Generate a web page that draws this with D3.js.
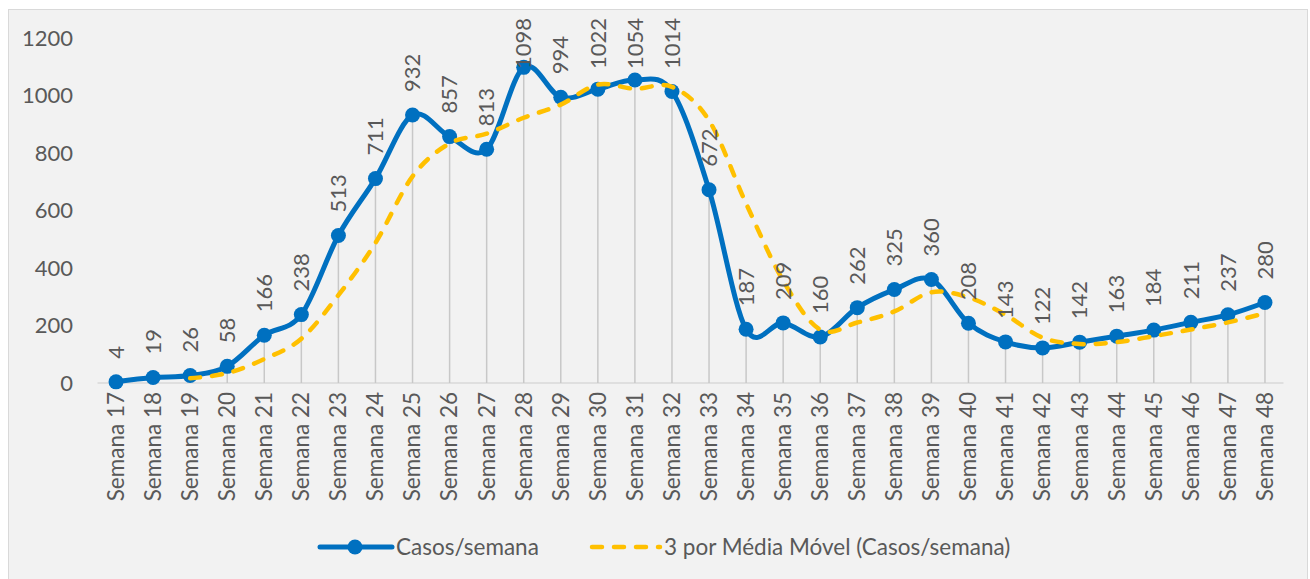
<!DOCTYPE html>
<html>
<head>
<meta charset="utf-8">
<script src="https://cdn.jsdelivr.net/npm/d3@7"></script>
<style>
  body { margin: 0; background: #ffffff; }
  text { font-family: Lato, "Open Sans", sans-serif; fill: #595959; }
</style>
</head>
<body>
<div id="chart"></div>
<script>
// weeks (categories)
const semanas = ["Semana 17","Semana 18","Semana 19","Semana 20","Semana 21","Semana 22","Semana 23","Semana 24",
  "Semana 25","Semana 26","Semana 27","Semana 28","Semana 29","Semana 30","Semana 31","Semana 32",
  "Semana 33","Semana 34","Semana 35","Semana 36","Semana 37","Semana 38","Semana 39","Semana 40",
  "Semana 41","Semana 42","Semana 43","Semana 44","Semana 45","Semana 46","Semana 47","Semana 48"];

// cases per week
const casos = [4,19,26,58,166,238,513,711,932,857,813,1098,994,1022,1054,1014,
  672,187,209,160,262,325,360,208,143,122,142,163,184,211,237,280];

// 3-week moving average as plotted (starts at Semana 19)
const mediaMovel = [null,null,16.3,34.3,83.3,154,305.7,487.3,718.7,833.3,867.3,922.7,968.3,1038,1023.3,1030,
  913.3,624.3,356,185.3,210.3,249,315.7,297.7,237,157.7,135.7,142.3,163,186,210.7,242.7];

const yTicks = [0,200,400,600,800,1000,1200];

const W = 1310, H = 579;
const blue = "#0070c0", gold = "#ffc000";

let svg = d3.select("#chart").append("svg")
    .attr("width", W)
    .attr("height", H);

// chart area background
svg.append("rect")
    .attr("x", 8.5).attr("y", 9.5)
    .attr("width", 1299).attr("height", 600)
    .attr("fill", "#f2f2f2")
    .attr("stroke", "#d9d9d9");

let x = d3.scaleBand()
    .domain(semanas)
    .range([97.5, 1283.5]);

let y = d3.scaleLinear()
    .domain([0, 1200])
    .range([383, 38]);

const cx = (d) => x(d) + x.bandwidth() / 2;

// y axis labels (no gridlines)
let yAxis = d3.axisLeft(y).tickValues(yTicks).tickFormat(d3.format("d")).tickSize(0).tickPadding(0);
let gy = svg.append("g").attr("transform", "translate(73,0)").call(yAxis);
gy.select(".domain").remove();
gy.selectAll("text")
    .style("font-size", "22px")
    .attr("fill", "#595959")
    .style("font-family", "Lato, 'Open Sans', sans-serif");

// baseline
svg.append("line")
    .attr("x1", 97.5).attr("x2", 1283.5)
    .attr("y1", y(0)).attr("y2", y(0))
    .attr("stroke", "#d9d9d9")
    .attr("stroke-width", 1.5);

// x axis labels, rotated
let xAxis = d3.axisBottom(x).tickSize(0).tickPadding(0);
let gx = svg.append("g").attr("transform", `translate(0,${y(0)})`).call(xAxis);
gx.select(".domain").remove();
gx.selectAll("text")
    .attr("transform", "rotate(-90)")
    .attr("x", -9)
    .attr("y", 0)
    .attr("dy", "0.35em")
    .attr("text-anchor", "end")
    .style("font-size", "22.5px")
    .attr("fill", "#595959")
    .style("font-family", "Lato, 'Open Sans', sans-serif");

// drop lines from each point to baseline
svg.selectAll(".drop")
    .data(casos)
    .enter()
    .append("line")
    .attr("class", "drop")
    .attr("x1", (d, i) => cx(semanas[i]))
    .attr("x2", (d, i) => cx(semanas[i]))
    .attr("y1", (d) => y(d))
    .attr("y2", y(0))
    .attr("stroke", "#c8c8c8")
    .attr("stroke-width", 1.5);

//smoothed lines
let line = d3.line()
    .defined((d) => d != null)
    .x((d, i) => cx(semanas[i]))
    .y((d) => y(d))
    .curve(d3.curveCardinal.tension(0));

svg.append("path")
    .datum(casos)
    .attr("d", line)
    .attr("fill", "none")
    .attr("stroke", blue)
    .attr("stroke-width", 5)
    .attr("stroke-linejoin", "round");

svg.selectAll(".marker")
    .data(casos)
    .enter()
    .append("circle")
    .attr("class", "marker")
    .attr("cx", (d, i) => cx(semanas[i]))
    .attr("cy", (d) => y(d))
    .attr("r", 7.5)
    .attr("fill", blue);

svg.append("path")
    .datum(mediaMovel)
    .attr("d", line)
    .attr("fill", "none")
    .attr("stroke", gold)
    .attr("stroke-width", 4.5)
    .attr("stroke-linecap", "round")
    .attr("stroke-dasharray", "10,12");

// value labels, rotated above points
svg.selectAll(".val")
    .data(casos)
    .enter()
    .append("text")
    .attr("class", "val")
    .text((d) => d)
    .style("font-size", "22px")
    .attr("text-anchor", "start")
    .attr("dy", "0.35em")
    .each(function (d, i) {
        let len = this.getComputedTextLength();
        let start = Math.max(y(d) - 23, 18 + len);
        d3.select(this).attr("transform", `translate(${cx(semanas[i])},${start}) rotate(-90)`);
    });

// legend
let lg = svg.append("g");
lg.append("line")
    .attr("x1", 320).attr("x2", 392).attr("y1", 547).attr("y2", 547)
    .attr("stroke", blue).attr("stroke-width", 5).attr("stroke-linecap", "round");
lg.append("circle").attr("cx", 355).attr("cy", 547).attr("r", 7.5).attr("fill", blue);
lg.append("text").attr("x", 396).attr("y", 554.5).style("font-size", "22.5px").text("Casos/semana");

lg.append("line")
    .attr("x1", 592).attr("x2", 660).attr("y1", 547).attr("y2", 547)
    .attr("stroke", gold).attr("stroke-width", 4.5)
    .attr("stroke-linecap", "round").attr("stroke-dasharray", "10,12");
lg.append("text").attr("x", 664).attr("y", 554.5).style("font-size", "22.5px").text("3 por Média Móvel (Casos/semana)");
</script>
</body>
</html>
